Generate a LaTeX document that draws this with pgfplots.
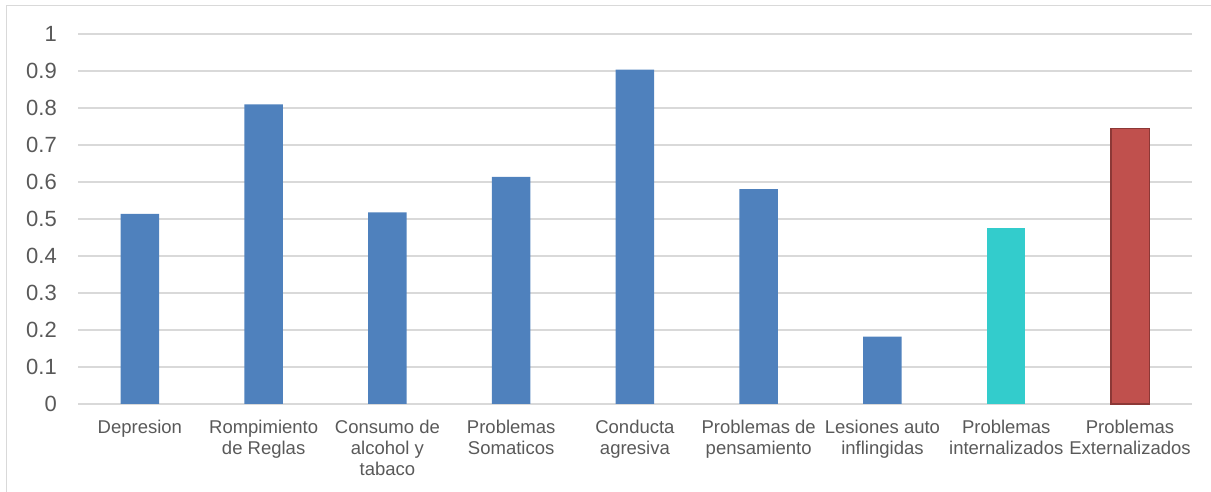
\documentclass[border=0pt]{standalone}
\usepackage{fontspec}
\setmainfont{Liberation Sans}
\usepackage{pgfplots}
\pgfplotsset{compat=1.18}
\definecolor{barblue}{HTML}{4F81BD}
\definecolor{barcyan}{HTML}{33CCCC}
\definecolor{barred}{HTML}{C0504D}
\definecolor{barredline}{HTML}{8C3836}
\definecolor{gridgray}{HTML}{D9D9D9}
\definecolor{textgray}{HTML}{595959}

\begin{document}
\begin{tikzpicture}[x=1pt,y=1pt]
\path[use as bounding box] (0,0) rectangle (1211,492);
% chart area frame
\draw[gridgray, line width=1.5pt] (6.5,0) -- (6.5,486.5) -- (1211,486.5);
\begin{axis}[
  at={(78pt,88pt)}, anchor=south west,
  scale only axis, width=1114pt, height=370pt,
  xmin=-0.5, xmax=8.5, ymin=0, ymax=1,
  axis line style={draw=none},
  major tick length=0pt,
  ymajorgrids, grid style={gridgray, line width=1.3pt},
  ytick={0,0.1,0.2,0.3,0.4,0.5,0.6,0.7,0.8,0.9,1},
  yticklabels={0,0.1,0.2,0.3,0.4,0.5,0.6,0.7,0.8,0.9,1},
  yticklabel style={anchor=east, inner sep=0pt, xshift=-21pt,
    font=\fontsize{22}{26}\selectfont, text=textgray},
  xtick={0,1,2,3,4,5,6,7,8},
  xticklabels={Depresion, Rompimiento\\de Reglas, Consumo de\\alcohol y\\tabaco,
    Problemas\\Somaticos, Conducta\\agresiva, Problemas de\\pensamiento,
    Lesiones auto\\inflingidas, Problemas\\internalizados, Problemas\\Externalizados},
  xticklabel style={anchor=north, align=center, inner sep=0pt, yshift=-16pt,
    font=\fontsize{18.5}{21}\selectfont, text=textgray},
  ybar, bar width=38.5pt, bar shift=0pt,
  clip=false,
]
\addplot[fill=barblue, draw=none] coordinates {
  (0,0.514) (1,0.810) (2,0.518) (3,0.614) (4,0.904) (5,0.581) (6,0.182)};
\addplot[fill=barcyan, draw=none] coordinates {(7,0.476)};
\addplot[fill=barred, draw=barredline, line width=1.5pt] coordinates {(8,0.745)};
\end{axis}
\end{tikzpicture}
\end{document}
